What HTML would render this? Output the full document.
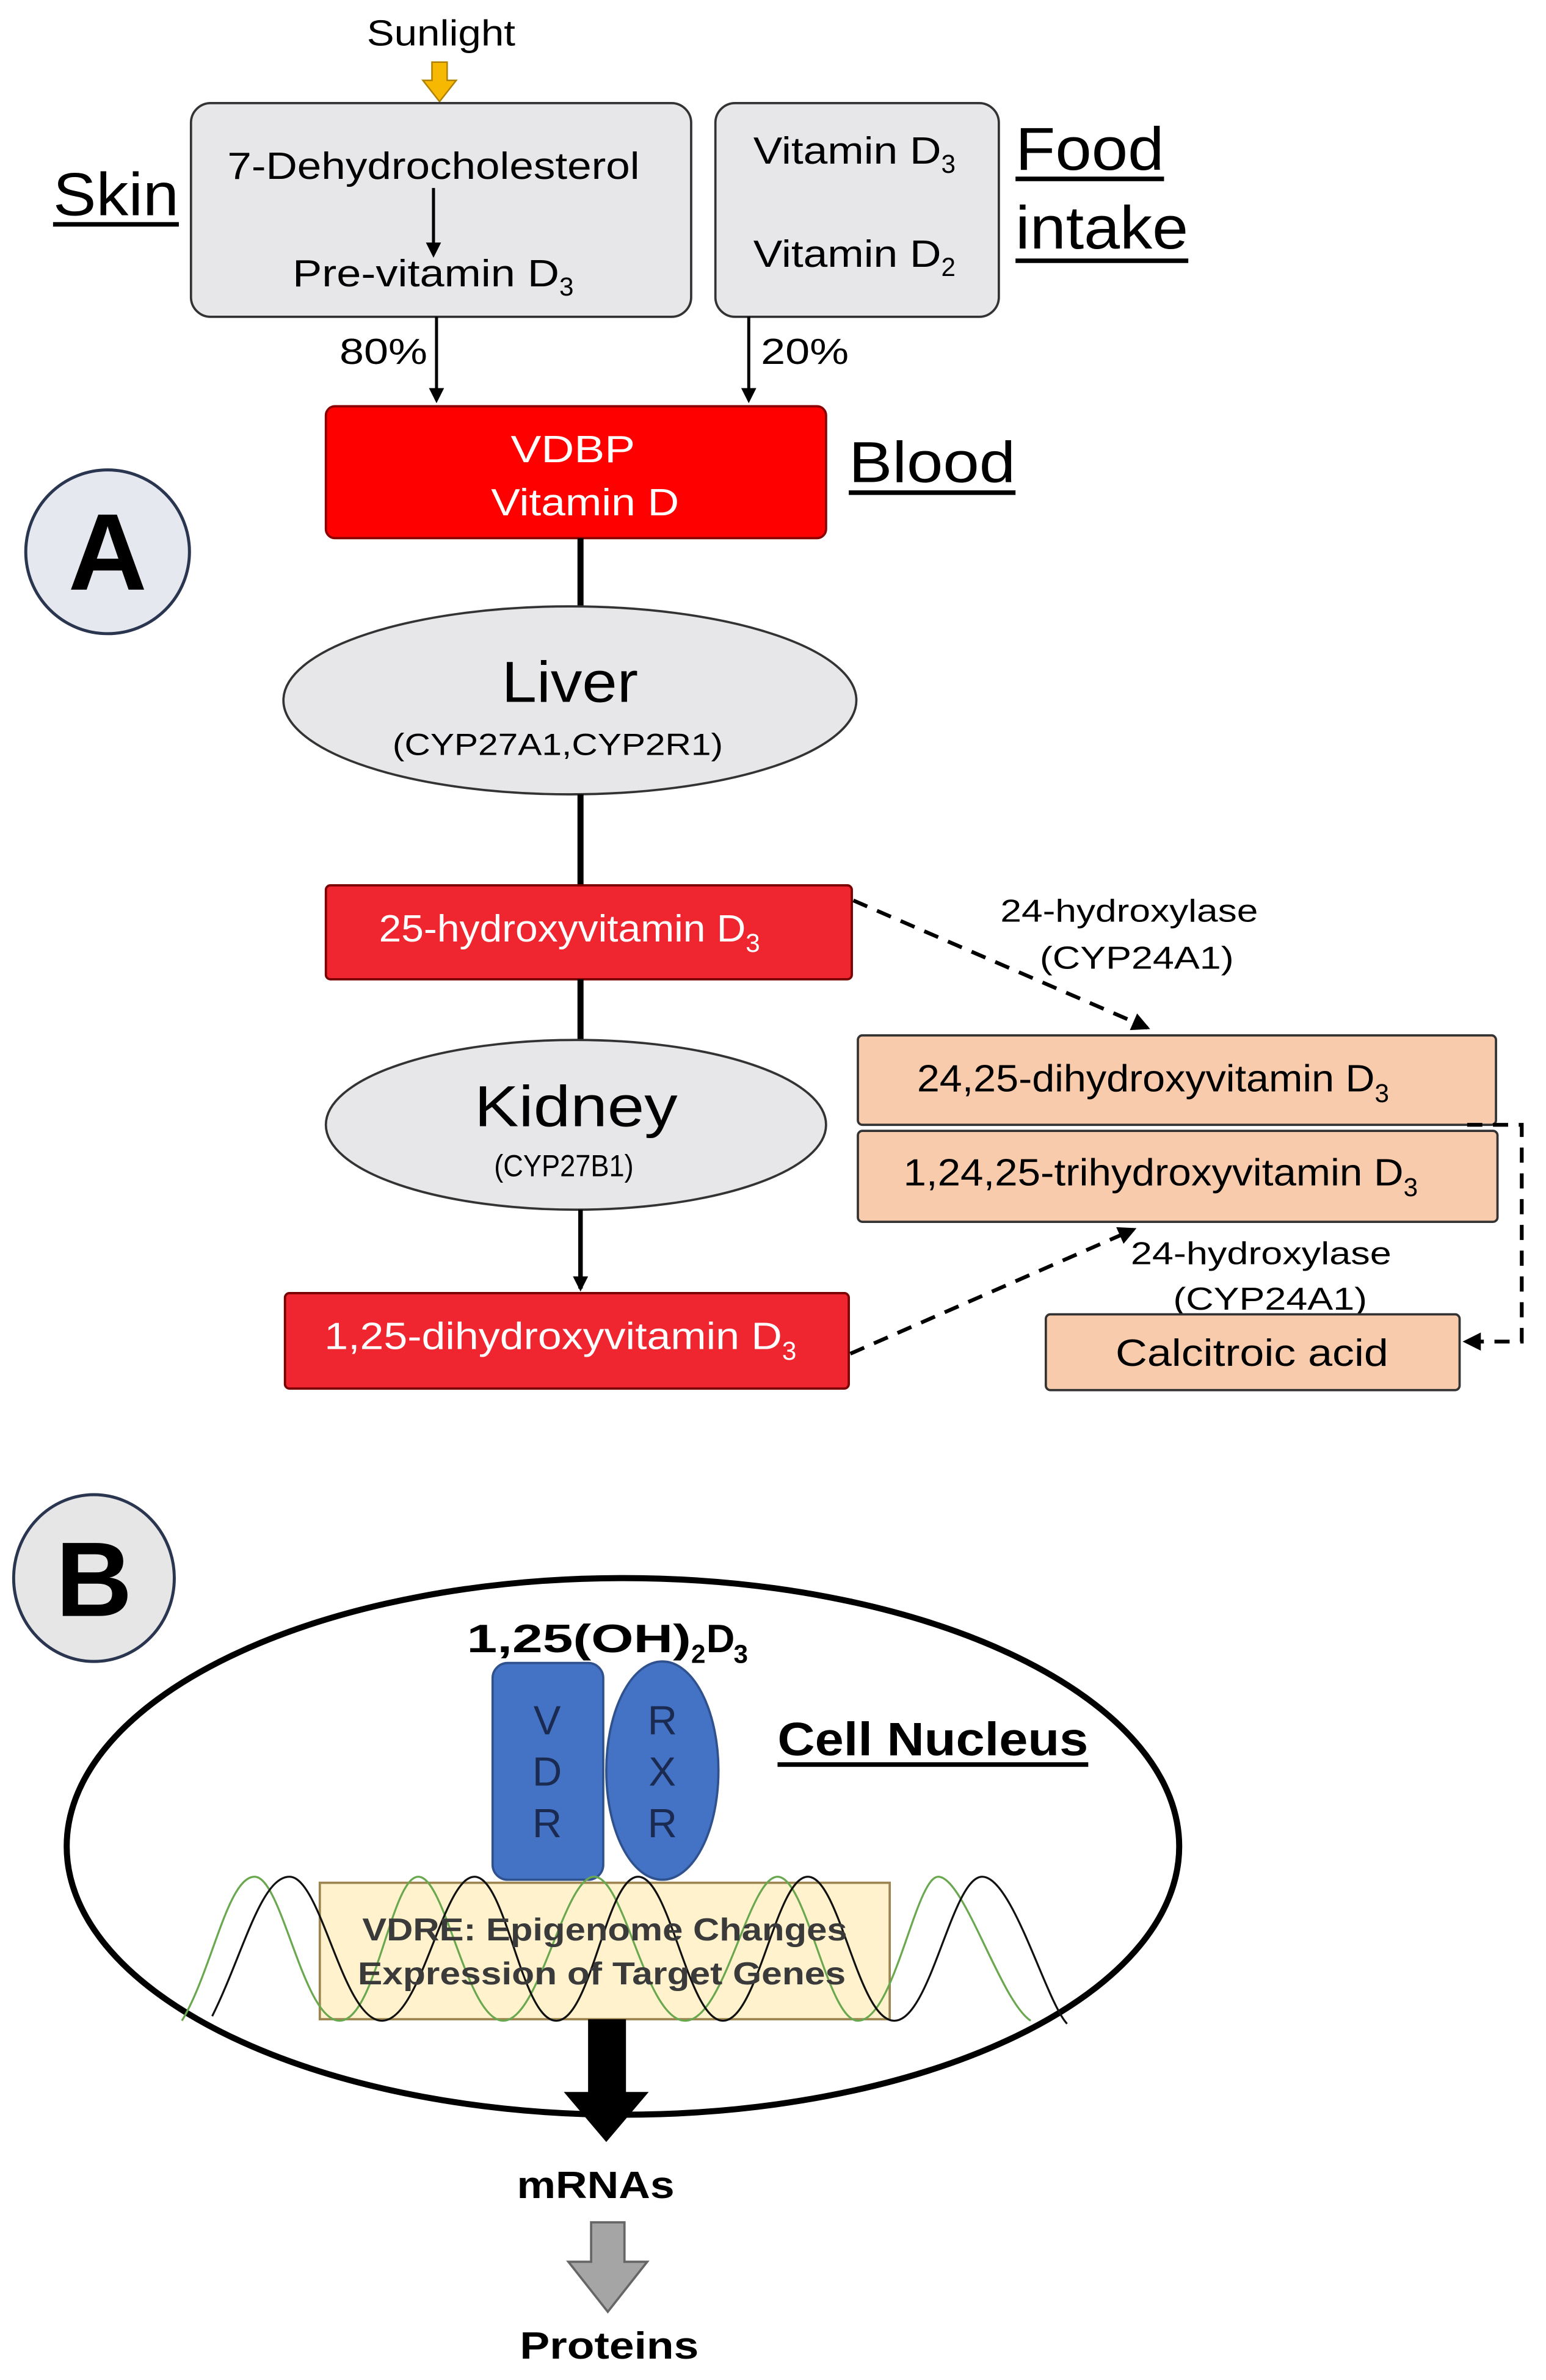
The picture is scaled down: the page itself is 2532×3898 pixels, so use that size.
<!DOCTYPE html>
<html><head><meta charset="utf-8"><style>
html,body{margin:0;padding:0;background:#fff;}
svg{display:block;}
text{font-family:"Liberation Sans",Arial,sans-serif;}
</style></head><body>
<svg width="2532" height="3898" viewBox="0 0 1020 1570" preserveAspectRatio="none" xmlns="http://www.w3.org/2000/svg">
<defs>
<marker id="ah" markerWidth="10" markerHeight="10" refX="8" refY="5" orient="auto" markerUnits="userSpaceOnUse">
<path d="M0,0 L10,5 L0,10 Z" fill="#000"/></marker>
<marker id="ah2" markerWidth="12" markerHeight="12" refX="10" refY="6" orient="auto" markerUnits="userSpaceOnUse">
<path d="M0,0 L12,6 L0,12 Z" fill="#000"/></marker>
</defs>
<rect width="1020" height="1570" fill="#fff"/>

<!-- Sunlight -->
<text x="291" y="30" font-size="24" text-anchor="middle" textLength="98" lengthAdjust="spacingAndGlyphs">Sunlight</text>
<path d="M285,41 h10 v12 h6 l-11,14 l-11,-14 h6 Z" fill="#f6b800" stroke="#b08000" stroke-width="1"/>

<!-- Skin box -->
<rect x="126" y="68" width="330" height="141" rx="13" fill="#e7e7e9" stroke="#333" stroke-width="1.5"/>
<text x="286" y="118" font-size="25" text-anchor="middle" textLength="272" lengthAdjust="spacingAndGlyphs">7-Dehydrocholesterol</text>
<line x1="286" y1="124" x2="286" y2="168" stroke="#000" stroke-width="2" marker-end="url(#ah)"/>
<text x="193" y="189" font-size="25" textLength="176" lengthAdjust="spacingAndGlyphs">Pre-vitamin  D</text>
<text x="369" y="195" font-size="17">3</text>

<!-- Food box -->
<rect x="472" y="68" width="187" height="141" rx="13" fill="#e7e7e9" stroke="#333" stroke-width="1.5"/>
<text x="497" y="108" font-size="25" textLength="124" lengthAdjust="spacingAndGlyphs">Vitamin D</text>
<text x="621" y="114" font-size="17">3</text>
<text x="497" y="176" font-size="25" textLength="124" lengthAdjust="spacingAndGlyphs">Vitamin D</text>
<text x="621" y="182" font-size="17">2</text>

<text x="35" y="142" font-size="40" textLength="83" lengthAdjust="spacingAndGlyphs">Skin</text>
<line x1="35" y1="148" x2="118" y2="148" stroke="#000" stroke-width="3"/>
<text x="670" y="112" font-size="40" textLength="98" lengthAdjust="spacingAndGlyphs">Food</text>
<line x1="670" y1="118" x2="768" y2="118" stroke="#000" stroke-width="3"/>
<text x="670" y="164" font-size="40" textLength="114" lengthAdjust="spacingAndGlyphs">intake</text>
<line x1="670" y1="172" x2="784" y2="172" stroke="#000" stroke-width="3"/>

<!-- 80 / 20 -->
<line x1="288" y1="209" x2="288" y2="264" stroke="#000" stroke-width="2" marker-end="url(#ah)"/>
<text x="282" y="240" font-size="24" text-anchor="end" textLength="58" lengthAdjust="spacingAndGlyphs">80%</text>
<line x1="494" y1="209" x2="494" y2="264" stroke="#000" stroke-width="2" marker-end="url(#ah)"/>
<text x="502" y="240" font-size="24" textLength="58" lengthAdjust="spacingAndGlyphs">20%</text>

<!-- Blood -->
<rect x="215" y="268" width="330" height="87" rx="6" fill="#ff0000" stroke="#8a0000" stroke-width="1.5"/>
<text x="378" y="305" font-size="25" fill="#fff" text-anchor="middle" textLength="82" lengthAdjust="spacingAndGlyphs">VDBP</text>
<text x="386" y="340" font-size="25" fill="#fff" text-anchor="middle" textLength="124" lengthAdjust="spacingAndGlyphs">Vitamin D</text>
<text x="560" y="318" font-size="38" textLength="110" lengthAdjust="spacingAndGlyphs">Blood</text>
<line x1="560" y1="325" x2="670" y2="325" stroke="#000" stroke-width="3"/>

<!-- A -->
<ellipse cx="71" cy="364" rx="54" ry="54" fill="#e6e8ef" stroke="#2a3550" stroke-width="2"/>
<text x="71" y="389" font-size="72" font-weight="bold" text-anchor="middle">A</text>

<line x1="383" y1="355" x2="383" y2="402" stroke="#000" stroke-width="4"/>
<ellipse cx="376" cy="462" rx="189" ry="62" fill="#e7e7e9" stroke="#333" stroke-width="1.5"/>
<text x="376" y="463" font-size="38" text-anchor="middle" textLength="90" lengthAdjust="spacingAndGlyphs">Liver</text>
<text x="368" y="498" font-size="20" text-anchor="middle" textLength="218" lengthAdjust="spacingAndGlyphs">(CYP27A1,CYP2R1)</text>
<line x1="383" y1="524" x2="383" y2="584" stroke="#000" stroke-width="4"/>

<rect x="215" y="584" width="347" height="62" rx="3" fill="#ef2530" stroke="#7a0000" stroke-width="1.5"/>
<text x="250" y="621" font-size="25" fill="#fff" textLength="242" lengthAdjust="spacingAndGlyphs">25-hydroxyvitamin  D</text>
<text x="492" y="628" font-size="17" fill="#fff">3</text>
<line x1="383" y1="646" x2="383" y2="688" stroke="#000" stroke-width="4"/>

<ellipse cx="380" cy="742" rx="165" ry="56" fill="#e7e7e9" stroke="#333" stroke-width="1.5"/>
<text x="380" y="743" font-size="38" text-anchor="middle" textLength="134" lengthAdjust="spacingAndGlyphs">Kidney</text>
<text x="372" y="776" font-size="20" text-anchor="middle" textLength="92" lengthAdjust="spacingAndGlyphs">(CYP27B1)</text>
<line x1="383" y1="798" x2="383" y2="850" stroke="#000" stroke-width="3" marker-end="url(#ah)"/>

<rect x="188" y="853" width="372" height="63" rx="3" fill="#ef2530" stroke="#7a0000" stroke-width="1.5"/>
<text x="214" y="890" font-size="25" fill="#fff" textLength="302" lengthAdjust="spacingAndGlyphs">1,25-dihydroxyvitamin  D</text>
<text x="516" y="897" font-size="17" fill="#fff">3</text>

<!-- dashed arrows -->
<line x1="563" y1="594" x2="757" y2="678" stroke="#000" stroke-width="2.5" stroke-dasharray="10,7" marker-end="url(#ah2)"/>
<text x="745" y="608" font-size="21" text-anchor="middle" textLength="170" lengthAdjust="spacingAndGlyphs">24-hydroxylase</text>
<text x="750" y="639" font-size="21" text-anchor="middle" textLength="128" lengthAdjust="spacingAndGlyphs">(CYP24A1)</text>

<text x="832" y="834" font-size="21" text-anchor="middle" textLength="172" lengthAdjust="spacingAndGlyphs">24-hydroxylase</text>
<text x="838" y="864" font-size="21" text-anchor="middle" textLength="128" lengthAdjust="spacingAndGlyphs">(CYP24A1)</text>

<rect x="566" y="683" width="421" height="59" rx="3" fill="#f8cbad" stroke="#333" stroke-width="1.5"/>
<text x="605" y="720" font-size="25" textLength="302" lengthAdjust="spacingAndGlyphs">24,25-dihydroxyvitamin  D</text>
<text x="907" y="727" font-size="17">3</text>
<rect x="566" y="746" width="422" height="60" rx="3" fill="#f8cbad" stroke="#333" stroke-width="1.5"/>
<text x="596" y="782" font-size="25" textLength="330" lengthAdjust="spacingAndGlyphs">1,24,25-trihydroxyvitamin  D</text>
<text x="926" y="789" font-size="17">3</text>

<line x1="561" y1="893" x2="748" y2="811" stroke="#000" stroke-width="2.5" stroke-dasharray="10,7" marker-end="url(#ah2)"/>

<rect x="690" y="867" width="273" height="50" rx="3" fill="#f8cbad" stroke="#333" stroke-width="1.5"/>
<text x="826" y="901" font-size="25" text-anchor="middle" textLength="180" lengthAdjust="spacingAndGlyphs">Calcitroic acid</text>
<polyline points="968,742 1004,742 1004,885 975,885" fill="none" stroke="#000" stroke-width="2.5" stroke-dasharray="10,7"/>
<path d="M965,885 l12,-6 v12 Z" fill="#000"/>

<!-- B -->
<ellipse cx="62" cy="1041" rx="53" ry="55" fill="#e6e6e6" stroke="#2a3550" stroke-width="2"/>
<text x="62" y="1066" font-size="70" font-weight="bold" text-anchor="middle">B</text>

<ellipse cx="411" cy="1218" rx="367" ry="177" fill="#fff" stroke="#000" stroke-width="4"/>

<text x="308" y="1090" font-size="26" font-weight="bold" textLength="148" lengthAdjust="spacingAndGlyphs">1,25(OH)</text>
<text x="456" y="1097" font-size="17" font-weight="bold">2</text>
<text x="466" y="1090" font-size="26" font-weight="bold">D</text>
<text x="484" y="1097" font-size="17" font-weight="bold">3</text>

<text x="513" y="1158" font-size="31" font-weight="bold" textLength="205" lengthAdjust="spacingAndGlyphs">Cell Nucleus</text>
<line x1="513" y1="1164" x2="718" y2="1164" stroke="#000" stroke-width="3"/>

<rect x="325" y="1097" width="73" height="143" rx="10" fill="#4472c4" stroke="#2f528f" stroke-width="1.5"/>
<text x="361" y="1144" font-size="27" text-anchor="middle" fill="#1a2a50">V</text>
<text x="361" y="1178" font-size="27" text-anchor="middle" fill="#1a2a50">D</text>
<text x="361" y="1212" font-size="27" text-anchor="middle" fill="#1a2a50">R</text>
<ellipse cx="437" cy="1168" rx="37" ry="72" fill="#4472c4" stroke="#2f528f" stroke-width="1.5"/>
<text x="437" y="1144" font-size="27" text-anchor="middle" fill="#1a2a50">R</text>
<text x="437" y="1178" font-size="27" text-anchor="middle" fill="#1a2a50">X</text>
<text x="437" y="1212" font-size="27" text-anchor="middle" fill="#1a2a50">R</text>

<rect x="211" y="1242" width="376" height="90" fill="#fff2cc" stroke="#9c8550" stroke-width="1.5"/>

<!-- DNA waves -->
<path d="M120,1333 C140,1300 150,1238 168,1238 C186,1238 200,1333 224,1333 C248,1333 258,1238 276,1238 C294,1238 308,1333 332,1333 C356,1333 372,1238 392,1238 C412,1238 426,1333 452,1333 C478,1333 494,1238 513,1238 C532,1238 546,1333 566,1333 C590,1333 604,1238 619,1238 C636,1238 660,1320 680,1333" fill="none" stroke="#6aa84f" stroke-width="1.3"/>
<path d="M140,1330 C160,1290 172,1238 191,1238 C212,1238 226,1333 252,1333 C278,1333 292,1238 313,1238 C334,1238 344,1333 367,1333 C390,1333 400,1238 421,1238 C442,1238 454,1333 477,1333 C500,1333 512,1238 533,1238 C554,1238 566,1333 590,1333 C614,1333 628,1238 648,1238 C668,1238 690,1320 704,1335" fill="none" stroke="#111" stroke-width="1.3"/>

<text x="399" y="1280" font-size="21" font-weight="bold" text-anchor="middle" fill="#3a3a3a" textLength="320" lengthAdjust="spacingAndGlyphs">VDRE:  Epigenome Changes</text>
<text x="397" y="1309" font-size="21" font-weight="bold" text-anchor="middle" fill="#3a3a3a" textLength="322" lengthAdjust="spacingAndGlyphs">Expression  of Target Genes</text>

<!-- arrows -->
<path d="M388,1332 h25 v48 h15 l-28,33 l-28,-33 h16 Z" fill="#000"/>
<text x="393" y="1450" font-size="25" font-weight="bold" text-anchor="middle" textLength="104" lengthAdjust="spacingAndGlyphs">mRNAs</text>
<path d="M390,1466 h22 v26 h15 l-26,33 l-26,-33 h15 Z" fill="#a5a5a5" stroke="#666" stroke-width="1.5"/>
<text x="402" y="1556" font-size="25" font-weight="bold" text-anchor="middle" textLength="118" lengthAdjust="spacingAndGlyphs">Proteins</text>
</svg>
</body></html>
